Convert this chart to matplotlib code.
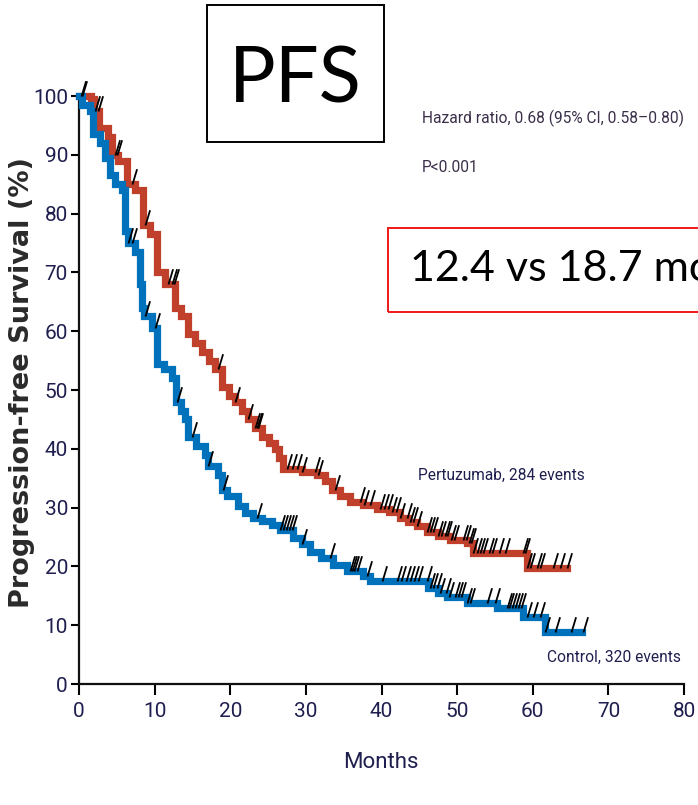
import numpy as np
import matplotlib
matplotlib.use("Agg")
import matplotlib.pyplot as plt
from matplotlib.path import Path
from matplotlib.patches import Rectangle

# ---------------- data ----------------
pert_t = [0, 1.6, 2.0, 2.6, 3.8, 4.4, 5.2, 6.3, 7.4, 8.5, 9.4, 10.3, 11.4, 12.7, 13.5,
          14.4, 15.3, 16.3, 17.2, 18.0, 18.9, 19.8, 20.6, 21.5, 22.4, 23.3, 24.2, 25.1,
          25.9, 26.5, 27.0, 29.5, 31.5, 32.5, 33.5, 34.5, 35.8, 37.5, 39.4, 41.0, 42.5,
          43.5, 44.7, 46.0, 47.5, 49.0, 51.3, 52.1, 59.2, 64.5]
pert_s = [100, 99.5, 97.5, 94.5, 93, 90, 89, 85, 84, 78, 76.5, 70, 68, 64, 62.5,
          59.5, 58, 56.5, 55, 53.5, 50.5, 49, 48, 46.5, 45, 43.5, 42, 41,
          40, 38.5, 36.5, 36, 35.5, 34.5, 33, 32, 31, 30.5, 29.8, 29.2, 28.2,
          27.6, 26.8, 25.8, 25.2, 24.5, 24, 22.3, 19.8, 19.8]

ctrl_t = [0, 0.4, 1.5, 1.8, 2.8, 3.4, 4.1, 4.8, 5.7, 6.1, 6.5, 7.4, 8.0, 8.3, 8.6,
          9.7, 10.3, 11.2, 12.3, 12.8, 13.5, 14.0, 14.4, 15.5, 16.7, 17.0, 18.4, 18.9,
          19.6, 21.0, 22.0, 23.0, 24.2, 25.5, 26.6, 28.3, 29.5, 30.6, 32.0, 33.6, 35.5,
          37.6, 38.5, 46.2, 47.5, 48.7, 51.3, 55.3, 58.7, 61.6, 66.5]
ctrl_s = [100, 98.5, 97.5, 93.5, 92, 89.5, 86.5, 85, 84, 77, 75, 73.5, 68, 64, 62.5,
          60.5, 54.5, 53.5, 52, 48, 46.5, 45, 42, 40.5, 39, 37, 35.5, 33,
          32, 30.2, 29, 28.2, 27.8, 27, 26.2, 24.8, 23.8, 22.4, 21.5, 20.2, 19.3,
          18.3, 17.5, 16.3, 15.5, 14.8, 13.8, 12.9, 11.4, 8.9, 8.9]

pert_cens = [0.4, 2.1, 2.5, 4.8, 5.0, 7.0, 8.7, 11.8, 12.3, 12.6, 18.4, 20.6, 22.4,
             23.3, 23.5, 23.7, 27.5, 28.2, 28.8, 29.5, 31.2, 31.6, 33.9, 37.2, 37.7,
             38.5, 39.8, 40.3, 40.8, 41.4, 41.9, 42.5, 43.4, 43.8, 44.2, 44.7, 46.0,
             46.4, 46.8, 47.5, 47.9, 48.4, 48.6, 49.2, 49.6, 50.8, 51.2, 51.6, 51.8,
             52.1, 52.6, 53.0, 53.4, 54.2, 54.6, 55.5, 56.3, 58.7, 59.0, 59.3, 59.7,
             60.6, 61.0, 62.7, 63.6, 64.5]
ctrl_cens = [0.2, 6.5, 7.0, 8.7, 10.0, 13.0, 14.9, 17.1, 19.1, 23.5, 26.6, 27.0, 27.4,
             27.8, 28.1, 29.5, 33.2, 35.8, 36.1, 36.4, 36.8, 38.1, 40.1, 42.0, 42.6,
             43.2, 43.8, 44.3, 44.8, 46.0, 46.4, 46.8, 47.3, 47.7, 48.5, 48.9, 49.7,
             50.1, 50.5, 51.3, 51.7, 54.0, 55.0, 56.6, 56.9, 57.2, 57.6, 58.0, 58.4,
             59.2, 60.0, 60.9, 61.6, 63.0, 65.0, 66.7]

x_ticks = [0, 10, 20, 30, 40, 50, 60, 70, 80]
y_ticks = [0, 10, 20, 30, 40, 50, 60, 70, 80, 90, 100]

RED = "#C0402C"
BLUE = "#0072BC"
NAVY = "#1f1f4f"
NARROW = ["Roboto", "DejaVu Sans"]

fig = plt.figure(figsize=(6.98, 8.05), dpi=100)
ax = fig.add_axes([79 / 698, 121 / 805, 605 / 698, 588 / 805])


def surv_at(times, t_arr, s_arr):
    t_arr = np.asarray(t_arr)
    s_arr = np.asarray(s_arr)
    idx = np.searchsorted(t_arr, np.asarray(times), side="right") - 1
    idx = np.clip(idx, 0, len(s_arr) - 1)
    return s_arr[idx]


ax.step(pert_t, pert_s, where="post", color=RED, lw=5.2, clip_on=False,
        solid_joinstyle="miter", zorder=3)
ax.step(ctrl_t, ctrl_s, where="post", color=BLUE, lw=5.2, clip_on=False,
        solid_joinstyle="miter", zorder=3)

cens_marker = Path([(0, 0), (0.3, 1)], [Path.MOVETO, Path.LINETO])
for cens, t_arr, s_arr in ((pert_cens, pert_t, pert_s), (ctrl_cens, ctrl_t, ctrl_s)):
    ax.plot(cens, surv_at(cens, t_arr, s_arr), linestyle="none", marker=cens_marker,
            markersize=22, markeredgewidth=1.3, color="black", clip_on=False, zorder=4)

ax.set_xlim(0, 80)
ax.set_ylim(0, 100)
ax.set_xticks(x_ticks)
ax.set_yticks(y_ticks)
ax.set_xticklabels([str(v) for v in x_ticks], family=NARROW, fontsize=15, color=NAVY)
ax.set_yticklabels([str(v) for v in y_ticks], family=NARROW, fontsize=15, color=NAVY)
ax.tick_params(axis="x", direction="out", length=8, width=1.5, pad=5)
ax.tick_params(axis="y", direction="out", length=6, width=1.5, pad=2)
for side in ("top", "right"):
    ax.spines[side].set_visible(False)
for side in ("left", "bottom"):
    ax.spines[side].set_linewidth(1.6)
    ax.spines[side].set_color("#111111")

fig.text(381 / 698, 1 - 762 / 805, "Months", family=NARROW, fontsize=16,
         color=NAVY, ha="center", va="center")
fig.text(22 / 698, 1 - 382 / 805, "Progression-free Survival (%)", family="DejaVu Sans",
         fontweight="bold", fontsize=19.5, color="#2a2a2a", rotation=90,
         ha="center", va="center")

# curve labels
fig.text(418 / 698, 1 - 475 / 805, "Pertuzumab, 284 events", family=NARROW,
         fontsize=11.2, color=NAVY, ha="left", va="center")
fig.text(547 / 698, 1 - 657 / 805, "Control, 320 events", family=NARROW,
         fontsize=11.2, color=NAVY, ha="left", va="center")

# hazard ratio annotation
fig.text(422 / 698, 1 - 118 / 805, "Hazard ratio, 0.68 (95% CI, 0.58\u20130.80)",
         family=NARROW, fontsize=11.2, color="#3b2f4a", ha="left", va="center")
fig.text(422 / 698, 1 - 168 / 805, "P<0.001", family=NARROW, fontsize=11.2,
         color="#3b2f4a", ha="left", va="center")

# PFS box
fig.patches.append(Rectangle((207 / 698, 1 - 142 / 805), 177 / 698, 137 / 805,
                             transform=fig.transFigure, fill=False, edgecolor="black",
                             linewidth=1.4))
fig.text(295.5 / 698, 1 - 81 / 805, "PFS", family="Lato", fontsize=56, color="black",
         ha="center", va="center")

# median box (runs off the right edge as in the reference)
fig.patches.append(Rectangle((388 / 698, 1 - 312 / 805), 400 / 698, 84 / 805,
                             transform=fig.transFigure, fill=False, edgecolor="#F01818",
                             linewidth=1.4))
fig.text(410 / 698, 1 - 281 / 805, "12.4 vs 18.7 months", family="Lato", fontsize=31,
         color="black", ha="left", va="baseline")

fig.savefig("out.png", dpi=100)
